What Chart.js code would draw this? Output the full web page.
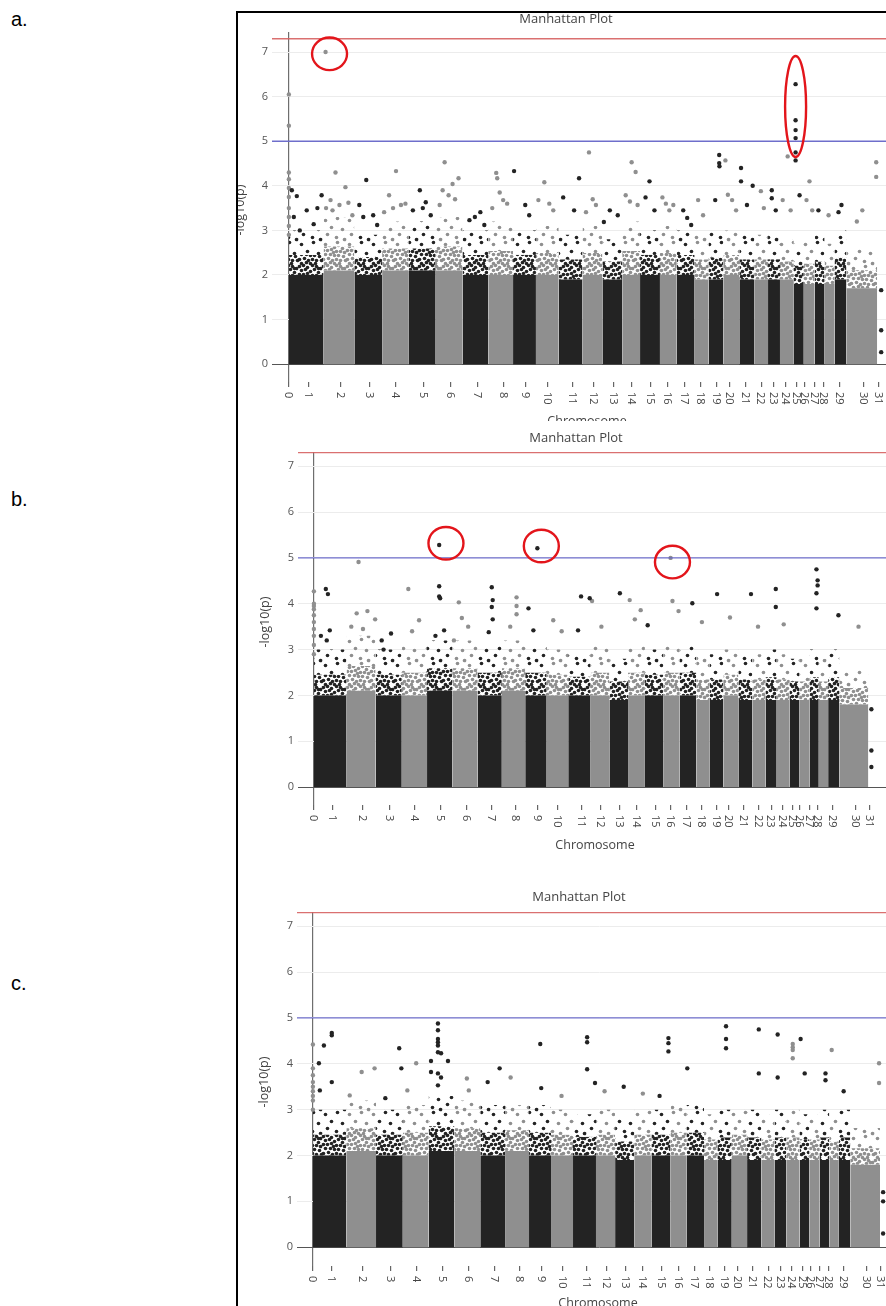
<!DOCTYPE html>
<html><head><meta charset="utf-8">
<script src="https://cdn.jsdelivr.net/npm/chart.js@4.4.0/dist/chart.umd.min.js"></script>
<style>
html,body{margin:0;padding:0;width:886px;height:1306px;overflow:hidden;background:#fff;}
.panel{position:absolute;left:226px;width:680px;}
.lab{position:absolute;left:11px;font:20px "Liberation Sans",Arial,sans-serif;color:#000;}
.w{position:absolute;background:#fff;}
.k{position:absolute;background:#000;}
</style></head><body>
<div class="lab" style="top:8px">a.</div>
<div class="lab" style="top:488px">b.</div>
<div class="lab" style="top:972px">c.</div>
<canvas id="ca" class="panel" style="top:0px" width="680" height="421"></canvas>
<canvas id="cb" class="panel" style="top:421px" width="680" height="449"></canvas>
<canvas id="cc" class="panel" style="top:870px" width="680" height="436"></canvas>
<div class="w" style="left:226px;top:0;width:10px;height:1306px"></div>
<div class="w" style="left:226px;top:0;width:680px;height:11px"></div>
<div class="k" style="left:236px;top:11px;width:660px;height:2px"></div>
<div class="k" style="left:236px;top:11px;width:2px;height:1300px"></div>
<script>
// ---------- data ----------
const chromosomes = ['1','2','3','4','5','6','7','8','9','10','11','12','13','14','15','16','17','18','19','20','21','22','23','24','25','26','27','28','29','30','31'];
// genome position (cumulative, arbitrary Mb-like units)
const chrStart = [0,140,264,376,484,592,700,804,904,996,1088,1184,1264,1344,1416,1496,1564,1636,1692,1752,1816,1876,1932,1980,2036,2076,2120,2160,2200,2248,2372];
const chrEnd   = [140,264,376,484,592,700,804,904,996,1088,1184,1264,1344,1416,1496,1564,1636,1692,1752,1816,1876,1932,1980,2036,2076,2120,2160,2200,2248,2372,2395];
const tickLabels = ['0','1','2','3','4','5','6','7','8','9','10','11','12','13','14','15','16','17','18','19','20','21','22','23','24','25','26','27','28','29','30','31'];
const tickPos = [0,80,208,324,432,544,652,760,864,956,1044,1144,1228,1308,1380,1460,1528,1596,1660,1724,1776,1840,1904,1956,2004,2048,2080,2120,2156,2220,2316,2376];
const yTicks = [0,1,2,3,4,5,6,7];
const genomeWideLine = 7.3;
const suggestiveLine = 5;

// dense body of each chromosome: solid core height and upper edge of dense SNP cloud (-log10 p)
const coreA = [2.0,2.1,2.0,2.1,2.1,2.1,2.0,2.0,2.0,2.0,1.9,2.0,1.9,2.0,2.0,2.0,2.0,1.9,1.9,2.0,1.9,1.9,1.9,1.9,1.8,1.8,1.8,1.8,1.9,1.7,0];
const topA  = [3.0,3.3,2.9,3.2,3.2,3.3,3.0,3.2,3.0,3.1,2.9,3.1,2.8,3.2,3.0,3.1,3.0,2.9,3.0,3.0,2.9,2.9,2.9,2.8,2.7,2.8,2.9,2.7,3.0,2.6,0];
const coreB = [2.0,2.1,2.0,2.0,2.1,2.1,2.0,2.1,2.0,2.0,2.0,2.0,1.9,2.0,2.0,2.0,2.0,1.9,1.9,2.0,1.9,1.9,1.9,1.9,1.9,1.9,1.9,1.9,1.9,1.8,0];
const topB  = [3.0,3.3,3.0,3.1,3.2,3.2,3.1,3.2,3.1,3.0,2.9,3.1,2.8,3.1,3.0,3.1,3.1,2.9,2.9,3.0,2.9,2.9,3.0,2.9,2.8,2.8,3.0,2.8,3.0,2.6,0];
const coreC = [2.0,2.1,2.0,2.0,2.1,2.1,2.0,2.1,2.0,2.0,2.0,2.0,1.9,2.0,2.0,2.0,2.0,1.9,1.9,2.0,1.9,1.9,1.9,1.9,1.9,1.9,1.9,1.9,1.9,1.8,0];
const topC  = [3.0,3.2,3.0,3.1,3.3,3.2,3.1,3.1,3.1,3.0,2.9,3.0,2.8,3.0,3.0,3.1,3.1,2.9,3.0,3.0,3.0,2.9,3.0,3.0,2.9,2.9,3.0,2.8,3.0,2.6,0];

// individual SNPs above the dense cloud: [genome position, -log10 p]
const snpsA = [
 [0,6.05],[0,5.35],[0,4.3],[0,4.15],[0,3.95],[0,3.75],[0,3.5],[0,3.3],[0,3.1],[0,2.9],
 [12,3.9],[32,3.77],[44,3.0],[132,3.79],[72,3.45],[100,3.14],[20,3.3],[115,3.5],
 [148,7.0],[188,4.3],[228,3.97],[168,3.68],[256,3.34],[204,3.57],[176,3.45],[240,3.62],[150,3.5],
 [312,4.13],[284,3.57],[340,3.34],[356,3.12],[300,3.3],
 [432,4.33],[404,3.79],[452,3.57],[384,3.41],[470,3.6],[420,3.5],
 [528,3.9],[552,3.63],[500,3.45],[572,3.34],[540,3.5],
 [628,4.53],[660,4.04],[684,4.17],[644,3.79],[608,3.57],[670,3.7],[620,3.9],
 [728,3.23],[772,3.41],[788,3.12],[750,3.3],
 [836,4.29],[840,4.17],[864,3.68],[820,3.5],[880,3.6],[850,3.85],
 [908,4.33],[953,3.57],[969,3.34],
 [1030,4.08],[1006,3.68],[1066,3.45],[1050,3.6],
 [1170,4.17],[1106,3.74],[1150,3.45],
 [1210,4.75],[1238,3.57],[1198,3.41],[1225,3.7],
 [1294,3.45],[1270,3.19],[1326,3.34],
 [1382,4.53],[1398,4.31],[1358,3.79],[1406,3.57],[1375,3.65],
 [1454,4.1],[1438,3.74],[1474,3.45],
 [1506,3.74],[1534,3.45],[1550,3.57],[1520,3.6],
 [1590,3.45],[1606,3.28],[1622,3.12],
 [1650,3.68],[1670,3.34],
 [1735,4.69],[1735,4.51],[1736,4.44],[1719,3.68],
 [1760,4.57],[1787,3.68],[1803,3.45],[1770,3.8],
 [1823,4.4],[1823,4.1],[1847,3.57],[1870,4.0],
 [1903,3.88],[1915,3.5],
 [1947,3.9],[1947,3.72],[1963,3.45],
 [2011,4.66],[1991,3.68],[2023,3.45],
 [2043,6.28],[2043,5.47],[2043,5.25],[2043,5.07],[2043,4.75],[2043,4.57],[2059,3.79],
 [2099,4.1],[2087,3.68],[2110,3.45],
 [2135,3.45],[2176,3.34],
 [2228,3.57],[2216,3.41],
 [2368,4.53],[2368,4.2],[2312,3.45],[2290,3.2],
 [2388,1.66],[2388,0.76],[2388,0.27]
];
const snpsB = [
 [0,4.27],[0,4.0],[0,3.95],[0,3.88],[0,3.75],[0,3.6],[0,3.45],[0,3.3],[0,3.1],[0,2.9],
 [51,4.32],[60,4.21],[55,3.2],[68,3.42],[30,3.3],
 [191,4.91],[183,3.79],[229,3.84],[262,3.66],[160,3.5],[210,3.45],
 [290,3.2],[298,3.0],[330,3.35],
 [404,4.32],[450,3.64],[420,3.4],
 [536,5.28],[536,4.38],[536,4.16],[540,4.12],[557,3.42],[520,3.3],
 [620,4.03],[633,3.69],[599,3.2],[660,3.5],
 [761,4.36],[765,4.08],[761,3.93],[765,3.66],[748,3.38],
 [867,4.14],[867,3.95],[867,3.77],[840,3.5],
 [918,3.9],[956,5.21],[939,3.42],
 [1024,3.64],[1060,3.4],
 [1143,4.16],[1130,3.42],[1180,4.12],
 [1190,4.06],[1230,3.5],
 [1309,4.23],
 [1351,4.08],[1398,3.86],[1373,3.66],
 [1428,3.53],
 [1534,4.06],[1526,5.0],[1560,3.84],
 [1619,4.01],
 [1660,3.6],
 [1725,4.21],
 [1780,3.7],
 [1870,4.21],
 [1900,3.5],
 [1976,4.32],[1976,3.93],
 [2010,3.55],
 [2150,4.75],[2155,4.51],[2155,4.4],[2150,4.23],[2150,3.9],
 [2244,3.75],
 [2330,3.5],
 [2385,1.7],[2385,0.8],[2385,0.44]
];
const snpsC = [
 [0,4.42],[0,3.9],[0,3.75],[0,3.6],[0,3.5],[0,3.4],[0,3.3],[0,3.2],[0,3.0],
 [79,4.67],[79,4.62],[46,4.4],[25,4.01],[79,3.6],[29,3.42],
 [258,3.9],[204,3.82],[154,3.31],
 [361,4.34],[370,3.9],[303,3.25],
 [432,4.01],[395,3.42],
 [523,4.88],[523,4.73],[523,4.54],[523,4.47],[523,4.4],[523,4.25],[536,4.23],[565,4.06],[494,4.06],[494,3.82],[523,3.79],[536,3.7],[523,3.53],
 [644,3.68],[652,3.42],
 [731,3.6],[781,3.9],
 [827,3.7],
 [951,4.43],[955,3.47],
 [1040,3.3],
 [1147,4.58],[1147,4.47],[1147,3.88],[1180,3.58],
 [1220,3.4],[1300,3.5],[1380,3.35],
 [1487,4.56],[1487,4.45],[1487,4.27],[1450,3.3],
 [1566,3.9],
 [1728,4.82],[1728,4.54],[1728,4.34],
 [1865,4.75],[1865,3.79],
 [1944,4.64],[1944,3.7],
 [2007,4.43],[2007,4.36],[2007,4.3],[2007,4.12],
 [2040,4.54],[2057,3.79],
 [2144,3.79],[2144,3.64],
 [2170,4.3],
 [2220,3.4],
 [2368,4.01],[2368,3.58],
 [2385,1.2],[2385,1.0],[2385,0.3]
];
// red annotation marks: [genome position, -log10 p of centre, shape]
const marksA = [[164,6.96,'c'],[2043,5.78,'e']];
const marksB = [[565,5.32,'c'],[973,5.26,'c'],[1534,4.91,'c']];
const marksC = [];

// ---------- styling ----------
const DARK = [35,35,35], LIGHT = [143,143,143];
const rgba = (c,a)=>`rgba(${c[0]},${c[1]},${c[2]},${a})`;
const FONT = '"Open Sans", "DejaVu Sans", sans-serif';
// dot textures (24px tiles) used to render the dense SNP cloud
const DENSE_DOTS = [[1,2],[5,1],[9,3],[14,1],[18,2],[22,4],[3,6],[7,5],[12,7],[16,5],[20,8],[1,10],[5,10],[9,9],[14,11],[18,11],[22,12],
  [3,14],[8,14],[12,15],[16,15],[21,16],[1,19],[6,18],[10,20],[14,19],[18,20],[23,20],[3,23],[8,22],[12,23],[17,23],[20,4],[11,12]];
const SPARSE_DOTS = [[3,4],[15,2],[9,11],[20,13],[5,18],[14,21],[22,23]];
function dotPattern(col, dots){
  const c=document.createElement('canvas'); c.width=24; c.height=24;
  const g=c.getContext('2d'); g.fillStyle=rgba(col,1);
  dots.forEach(d=>{ [[0,0],[-24,0],[0,-24],[-24,-24],[24,0],[0,24]].forEach(o=>{
    g.beginPath(); g.arc(d[0]+0.5+o[0],d[1]+0.5+o[1],1.8,0,Math.PI*2); g.fill(); }); });
  return g.createPattern(c,'repeat');
}
const PAT = {
  dense:{dark:dotPattern(DARK,DENSE_DOTS), light:dotPattern(LIGHT,DENSE_DOTS)},
  sparse:{dark:dotPattern(DARK,SPARSE_DOTS), light:dotPattern(LIGHT,SPARSE_DOTS)}
};

function chrIndex(x){ for(let i=0;i<chrStart.length;i++){ if(x>=chrStart[i] && x<chrEnd[i]) return i; } return -1; }

const decor = {
  id:'decor',
  afterDraw(chart, args, o){
    const {ctx, chartArea:a, scales:{x,y}} = chart;
    ctx.save();
    ctx.fillStyle = '#444';
    ctx.font = '11px ' + FONT;
    ctx.textAlign='left'; ctx.textBaseline='middle';
    tickPos.forEach((v,i)=>{
      const px = x.getPixelForValue(v);
      ctx.save(); ctx.translate(px, a.bottom+10); ctx.rotate(Math.PI/2);
      ctx.fillText(tickLabels[i],0,0.5); ctx.restore();
    });
    ctx.textAlign='center';
    ctx.font = '13px ' + FONT;
    ctx.fillText('Manhattan Plot', o.title[0], o.title[1]);
    ctx.font = '12.5px ' + FONT;
    ctx.fillText('Chromosome', o.xt[0], o.xt[1]);
    ctx.save(); ctx.translate(o.yt[0], o.yt[1]); ctx.rotate(-Math.PI/2);
    ctx.fillText('-log10(p)',0,0); ctx.restore();
    ctx.strokeStyle = '#e3151b'; ctx.lineWidth = 2.4;
    o.marks.forEach(m=>{
      const cx = x.getPixelForValue(m[0]), cy = y.getPixelForValue(m[1]);
      const rx = m[2]==='e' ? 10.5 : 17.5, ry = m[2]==='e' ? 50.5 : 16.3;
      ctx.beginPath(); ctx.ellipse(cx, cy, rx, ry, 0, 0, Math.PI*2); ctx.stroke();
    });
    ctx.restore();
  }
};

function makePanel(id, p){
  const datasets = [];
  datasets.push({type:'line', data:[{x:p.xmin,y:genomeWideLine},{x:p.xmax,y:genomeWideLine}], borderColor:'rgba(214,96,96,0.9)', borderWidth:1.5, pointRadius:0, fill:false, order:0});
  datasets.push({type:'line', data:[{x:p.xmin,y:suggestiveLine},{x:p.xmax,y:suggestiveLine}], borderColor:'rgba(96,96,200,0.9)', borderWidth:1.3, pointRadius:0, fill:false, order:0});
  const dk=[], lt=[];
  p.snps.forEach(s=>{
    const i = s[0]===0 ? -1 : chrIndex(s[0]);
    const pt = {x:s[0], y:s[1]};
    if(i>=0 && i%2===0) dk.push(pt); else lt.push(pt);
  });
  datasets.push({type:'scatter', data:dk, backgroundColor:rgba(DARK,1), borderWidth:0, pointRadius:2.2, order:1});
  datasets.push({type:'scatter', data:lt, backgroundColor:rgba(LIGHT,1), borderWidth:0, pointRadius:2.2, order:1});
  for(let i=0;i<chromosomes.length;i++){
    const top = p.top[i], core = p.core[i];
    if(!top) continue;
    const shade = i%2===0 ? 'dark' : 'light';
    const col = i%2===0 ? DARK : LIGHT;
    const mid = core + 0.45*(top-core);
    const seg = (y)=>[{x:chrStart[i],y},{x:chrEnd[i],y}];
    datasets.push({type:'line', data:seg(core), fill:'origin', borderWidth:0, pointRadius:0, order:2, backgroundColor:rgba(col,1)});
    datasets.push({type:'line', data:seg(mid), fill:{value:core}, borderWidth:0, pointRadius:0, order:2, backgroundColor:PAT.dense[shade]});
    datasets.push({type:'line', data:seg(top), fill:{value:mid}, borderWidth:0, pointRadius:0, order:2, backgroundColor:PAT.sparse[shade]});
  }
  return new Chart(document.getElementById(id), {
    type:'scatter',
    data:{datasets},
    plugins:[decor],
    options:{
      responsive:false, animation:false, events:[],
      layout:{padding:{top:p.padTop,left:0,right:0,bottom:0}},
      plugins:{legend:{display:false}, tooltip:{enabled:false},
        decor:{title:p.title, xt:p.xt, yt:p.yt, marks:p.marks}},
      scales:{
        x:{type:'linear', min:p.xmin, max:p.xmax,
          afterBuildTicks:s=>{ s.ticks = tickPos.map(v=>({value:v})); },
          afterFit:s=>{ s.height = p.xAxisH; },
          ticks:{display:false},
          border:{display:false},
          grid:{drawOnChartArea:true, drawTicks:true, tickLength:5,
            color:c=> (c.tick && c.tick.value===0) ? 'rgba(110,110,110,1)' : 'rgba(0,0,0,0)',
            tickColor:'#666', lineWidth:1.2}
        },
        y:{type:'linear', min:p.ymin, max:p.ymax,
          afterBuildTicks:s=>{ s.ticks = yTicks.map(v=>({value:v})); },
          afterFit:s=>{ s.width = p.yAxisW; },
          ticks:{color:'#555', font:{family:FONT,size:11}, padding:4},
          border:{display:false},
          grid:{drawTicks:false, color:c=> (c.tick && c.tick.value===0) ? '#555' : '#ececec', lineWidth:1}
        }
      }
    }
  });
}

makePanel('ca', {core:coreA, top:topA, snps:snpsA, marks:marksA, xmin:-68, xmax:2472, ymin:-0.4, ymax:7.45,
  padTop:32, xAxisH:39, yAxisW:46, title:[340,19], xt:[361,421], yt:[14,210]});
makePanel('cb', {core:coreB, top:topB, snps:snpsB, marks:marksB, xmin:-68, xmax:2516, ymin:-0.39, ymax:7.31,
  padTop:31, xAxisH:65, yAxisW:72, title:[350,17], xt:[369,424], yt:[39,201]});
makePanel('cc', {core:coreC, top:topC, snps:snpsC, marks:marksC, xmin:-66.5, xmax:2464, ymin:-0.41, ymax:7.31,
  padTop:42, xAxisH:40, yAxisW:71, title:[353,27], xt:[372,433], yt:[38,212]});
</script>
</body></html>
